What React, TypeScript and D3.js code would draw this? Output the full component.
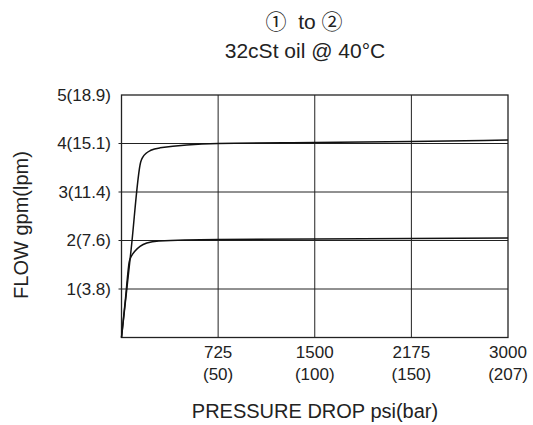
import { useEffect, useRef } from "react"
import * as d3 from "d3"

// pressure ticks (psi) with bar in brackets
const psiTicks = [725, 1500, 2175, 3000]
const barTicks = ["(50)", "(100)", "(150)", "(207)"]
const flowTicks = [1, 2, 3, 4, 5]
const flowLabels = ["1(3.8)", "2(7.6)", "3(11.4)", "4(15.1)", "5(18.9)"]

// curves: [psi, gpm]
const upperCurve: [number, number][] = [
  [0, 0], [72, 1.81], [144, 3.62], [160, 3.72], [185, 3.8], [220, 3.86],
  [289, 3.91], [725, 4.0], [1500, 4.02], [2175, 4.04], [3000, 4.07],
]
const lowerCurve: [number, number][] = [
  [0, 0], [30, 0.8], [58, 1.56], [75, 1.68], [100, 1.78], [139, 1.88], [190, 1.95],
  [280, 1.99], [725, 2.02], [1500, 2.03], [2175, 2.04], [3000, 2.05],
]

export default function App() {
  const ref = useRef<SVGSVGElement>(null)

  useEffect(() => {
    const svg = d3.select(ref.current)
    svg.selectAll("*").remove()

    const font = "'Liberation Sans', Arial, sans-serif"
    const left = 121.5, right = 508, top = 95, bottom = 337.5
    const step = (right - left) / 4

    // axis is evenly spaced between the pressure ticks
    const x = d3.scaleLinear()
      .domain([0, 725, 1500, 2175, 3000])
      .range([left, left + step, left + 2 * step, left + 3 * step, right])
    const y = d3.scaleLinear().domain([0, 5]).range([bottom, top])

    svg.append("rect").attr("width", 533).attr("height", 425).attr("fill", "#fff")

    const g = svg.append("g")

    // grid
    g.selectAll(".vgrid")
      .data(psiTicks.slice(0, 3))
      .enter()
      .append("line")
      .attr("x1", (d) => x(d)).attr("x2", (d) => x(d))
      .attr("y1", top).attr("y2", bottom)
      .attr("stroke", "#222").attr("stroke-width", 1)

    g.selectAll(".hgrid")
      .data(flowTicks.slice(0, 4))
      .enter()
      .append("line")
      .attr("x1", left - 3).attr("x2", right)
      .attr("y1", (d) => y(d)).attr("y2", (d) => y(d))
      .attr("stroke", "#222").attr("stroke-width", 1)

    g.append("rect")
      .attr("x", left).attr("y", top)
      .attr("width", right - left).attr("height", bottom - top)
      .attr("fill", "none").attr("stroke", "#222").attr("stroke-width", 1.3)

    // curves
    const line = d3.line<[number, number]>()
      .x((d) => x(d[0]))
      .y((d) => y(d[1]))
      .curve(d3.curveMonotoneX)

    ;[upperCurve, lowerCurve].forEach((c) => {
      g.append("path")
        .attr("d", line(c) as string)
        .attr("fill", "none")
        .attr("stroke", "#111")
        .attr("stroke-width", 1.5)
    })

    // y labels
    g.selectAll(".ylab")
      .data(flowTicks)
      .enter()
      .append("text")
      .attr("x", 111)
      .attr("y", (d) => y(d))
      .attr("dy", "0.35em")
      .attr("text-anchor", "end")
      .style("font-family", font)
      .style("font-size", "17px")
      .attr("fill", "#222")
      .text((d, i) => flowLabels[i])

    // x labels
    psiTicks.forEach((t, i) => {
      g.append("text")
        .attr("x", x(t)).attr("y", 358)
        .attr("text-anchor", "middle")
        .style("font-family", font).style("font-size", "17px")
        .attr("fill", "#222")
        .text(String(t))
      g.append("text")
        .attr("x", x(t)).attr("y", 380)
        .attr("text-anchor", "middle")
        .style("font-family", font).style("font-size", "17px")
        .attr("fill", "#222")
        .text(barTicks[i])
    })

    // axis titles
    g.append("text")
      .attr("x", 315).attr("y", 418)
      .attr("text-anchor", "middle")
      .style("font-family", font).style("font-size", "20px")
      .attr("fill", "#222")
      .text("PRESSURE DROP psi(bar)")

    g.append("text")
      .attr("transform", "translate(28,225) rotate(-90)")
      .attr("text-anchor", "middle")
      .style("font-family", font).style("font-size", "20px")
      .attr("fill", "#222")
      .text("FLOW gpm(lpm)")

    // title, circled digits need a font that draws them full size
    const t1 = g.append("text")
      .attr("x", 304).attr("y", 29)
      .attr("text-anchor", "middle")
      .style("font-family", font).style("font-size", "21px")
      .style("white-space", "pre")
      .attr("fill", "#222")
    const cjk = "'Noto Sans CJK JP', 'DejaVu Sans', sans-serif"
    t1.append("tspan").style("font-family", cjk).text("①")
    t1.append("tspan").text("  to ")
    t1.append("tspan").style("font-family", cjk).text("②")

    g.append("text")
      .attr("x", 305).attr("y", 58)
      .attr("text-anchor", "middle")
      .style("font-family", font).style("font-size", "21px")
      .attr("fill", "#222")
      .text("32cSt oil @ 40°C")
  }, [])

  return (
    <svg
      ref={ref}
      width={533}
      height={425}
      style={{ position: "absolute", left: 0, top: 0 }}
    />
  )
}
